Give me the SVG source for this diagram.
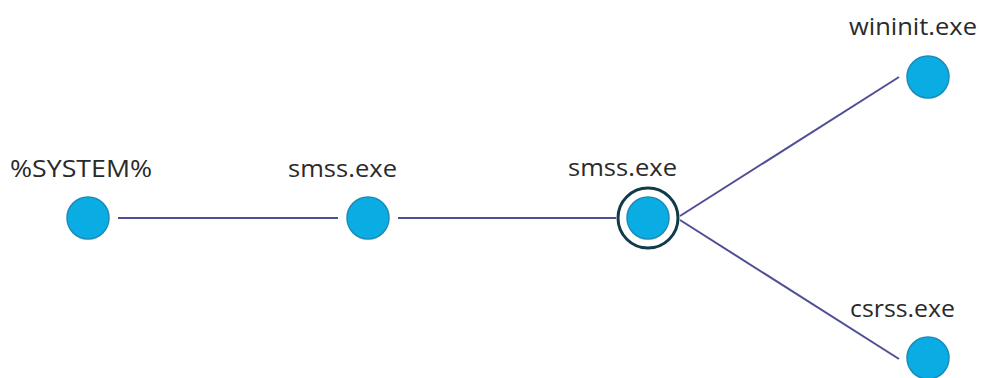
<svg xmlns="http://www.w3.org/2000/svg" width="981" height="378" viewBox="0 0 981 378">
<style>
.node circle.dot{fill:#0aade3;stroke:#1b8cb8;stroke-width:1.5}
.node circle.ring{fill:none;stroke:#103c4a;stroke-width:3}
.node text{font-family:"Open Sans","Noto Sans",sans-serif;font-size:24px;fill:#2a2a2a}
.edge{stroke:#4f4f95;stroke-width:2;fill:none}
</style>
<rect width="981" height="378" fill="#ffffff"/>
<g id="connectors">
<line class="edge" x1="118" y1="218" x2="338" y2="218"/>
<line class="edge" x1="398" y1="218" x2="616" y2="218"/>
<line class="edge" x1="680" y1="216" x2="899" y2="77"/>
<line class="edge" x1="680" y1="220" x2="899" y2="359"/>
</g>
<g id="node-system" class="node">
<circle class="dot" cx="88" cy="218" r="21"/>
<text x="10" y="177" textLength="142" lengthAdjust="spacingAndGlyphs">%SYSTEM%</text>
</g>
<g id="node-smss1" class="node">
<circle class="dot" cx="368" cy="218" r="21"/>
<text x="288" y="177" textLength="109" lengthAdjust="spacingAndGlyphs">smss.exe</text>
</g>
<g id="node-smss2" class="node">
<circle class="ring" cx="648" cy="218" r="30"/>
<circle class="dot" cx="648" cy="218" r="21"/>
<text x="568" y="176" textLength="109" lengthAdjust="spacingAndGlyphs">smss.exe</text>
</g>
<g id="node-wininit" class="node">
<circle class="dot" cx="928" cy="77" r="21"/>
<text x="849" y="35" textLength="128" lengthAdjust="spacingAndGlyphs">wininit.exe</text>
</g>
<g id="node-csrss" class="node">
<circle class="dot" cx="928" cy="358" r="21"/>
<text x="850" y="317" textLength="105" lengthAdjust="spacingAndGlyphs">csrss.exe</text>
</g>
</svg>
